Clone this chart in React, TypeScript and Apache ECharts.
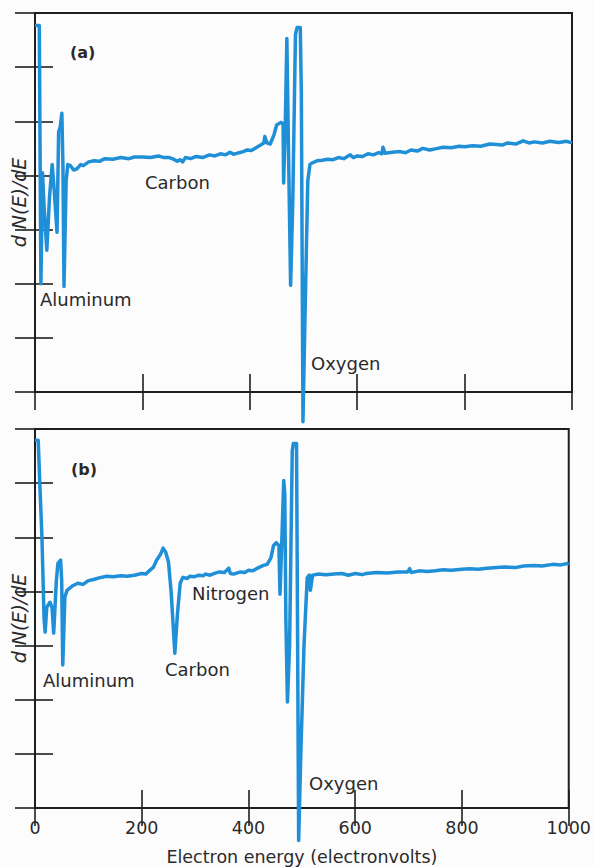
import React, { useEffect, useRef } from "react";
import * as echarts from "echarts";

// Panel (a): electron energy (eV) and derivative signal (arbitrary units, 0-7 frame)
const energyA = [
  0, 8, 11, 14, 17, 22, 27, 32, 36, 41, 44, 47, 50, 52, 54, 58, 61, 66, 72, 78, 85, 90, 100, 110, 120,
  130, 145, 160, 175, 185, 200, 215, 230, 240, 250, 258, 265, 270, 275, 280, 290, 300, 312, 325, 335,
  345, 355, 363, 370, 380, 388, 395, 403, 410, 420, 426, 428, 432, 438, 445, 450, 458, 462, 463, 466,
  469, 472, 476, 480, 485, 488, 494, 496, 499, 503, 508, 512, 516, 525, 535, 545, 555, 565, 575, 587,
  593, 600, 610, 620, 630, 640, 646, 648, 652, 665, 680, 690, 700, 712, 722, 735, 750, 760, 775, 790,
  800, 815, 830, 847, 860, 870, 880, 895, 909, 920, 930, 945, 959, 975, 990, 1000,
];
const valueA = [
  6.77, 6.77, 2.0, 4.05, 3.4, 2.62, 3.6, 4.2, 3.7, 2.95, 4.8, 4.9, 5.15, 4.2, 1.95, 3.9, 4.2, 4.18, 4.1,
  4.12, 4.2, 4.18, 4.25, 4.27, 4.26, 4.31, 4.3, 4.33, 4.31, 4.34, 4.34, 4.33, 4.36, 4.33, 4.33, 4.3,
  4.26, 4.29, 4.25, 4.33, 4.31, 4.35, 4.33, 4.38, 4.36, 4.4, 4.38, 4.43, 4.39, 4.42, 4.44, 4.47, 4.46,
  4.5, 4.56, 4.6, 4.72, 4.6, 4.58, 4.75, 4.93, 4.98, 4.95, 3.86, 4.9, 6.53, 4.5, 1.97, 3.5, 6.6, 6.73,
  6.73, 5.5, -0.55, 1.5, 3.9, 4.2, 4.23, 4.27, 4.28, 4.3, 4.29, 4.33, 4.31, 4.38, 4.33, 4.36, 4.35,
  4.4, 4.38, 4.42, 4.4, 4.52, 4.41, 4.43, 4.44, 4.42, 4.47, 4.45, 4.5, 4.47, 4.5, 4.52, 4.51, 4.54,
  4.53, 4.55, 4.54, 4.58, 4.57, 4.56, 4.6, 4.58, 4.64, 4.6, 4.62, 4.6, 4.63, 4.61, 4.63, 4.6,
];

// Panel (b)
const energyB = [
  0, 6, 9, 13, 17, 19, 22, 28, 32, 35, 40, 43, 48, 50, 52, 56, 60, 70, 80, 90, 100, 110, 120, 134, 147,
  160, 173, 186, 200, 208, 215, 222, 228, 235, 240, 245, 250, 255, 262, 267, 272, 277, 285, 290, 298,
  307, 315, 320, 328, 335, 345, 355, 363, 366, 372, 385, 393, 400, 408, 415, 428, 435, 442, 447, 452,
  457, 459, 462, 466, 468, 470, 473, 477, 482, 484, 490, 491, 494, 498, 504, 510, 514, 516, 520, 530,
  545, 560, 575, 587, 600, 613, 620, 640, 660, 680, 698, 702, 705, 720, 735, 750, 765, 780, 800, 815,
  830, 847, 865, 880, 900, 915, 935, 950, 970, 985, 1000,
];
const valueB = [
  6.79, 6.79, 6.0, 5.0, 3.5, 3.25, 3.71, 3.8, 3.7, 3.23, 4.2, 4.52, 4.58, 4.2, 2.64, 3.9, 4.02, 4.1,
  4.15, 4.13, 4.2, 4.22, 4.25, 4.28, 4.27, 4.29, 4.28, 4.3, 4.33, 4.32, 4.39, 4.45, 4.58, 4.68, 4.8,
  4.72, 4.55, 4.0, 2.86, 3.6, 4.15, 4.26, 4.24, 4.28, 4.27, 4.3, 4.29, 4.32, 4.3, 4.33, 4.36, 4.35,
  4.43, 4.33, 4.32, 4.36, 4.35, 4.39, 4.38, 4.42, 4.48, 4.5, 4.62, 4.85, 4.9, 4.85, 3.95, 4.8, 6.05,
  5.8, 3.5, 1.96, 3.0, 6.6, 6.73, 6.73, 5.0, -0.6, 1.0, 3.0, 4.25, 4.3, 4.02, 4.3, 4.32, 4.31, 4.32,
  4.33, 4.3, 4.33, 4.31, 4.33, 4.35, 4.34, 4.36, 4.36, 4.42, 4.35, 4.38, 4.37, 4.38, 4.4, 4.39, 4.41,
  4.42, 4.41, 4.43, 4.44, 4.45, 4.44, 4.47, 4.48, 4.47, 4.5, 4.49, 4.52,
];

const xName = "Electron energy (electronvolts)";
const yName = "d N(E)/dE";

const pair = (xs: number[], ys: number[]) => xs.map((x, i) => [x, ys[i]]);

const LINE = "#1f8fd8";
const INK = "#1e1e1e";
const TEXT = "#2a2a2a";
const FONT = "'DejaVu Sans', 'Liberation Sans', Arial, sans-serif";

export default function App() {
  const ref = useRef<HTMLDivElement>(null);

  useEffect(() => {
    document.body.style.margin = "0";
    const chart = echarts.init(ref.current!, null, { renderer: "svg" });

    const tick = (len: number) => ({
      show: true,
      inside: true,
      length: len,
      lineStyle: { color: INK, width: 1.6 },
    });

    const xAxisBase = (gridIndex: number, position: string, labels: boolean, name?: string) => ({
      type: "value",
      gridIndex,
      position,
      min: 0,
      max: 1000,
      interval: 200,
      axisLine: { show: false },
      axisTick: tick(18),
      splitLine: { show: false },
      axisLabel: {
        show: labels,
        margin: 11,
        fontSize: 17.5,
        color: TEXT,
        fontFamily: FONT,
        formatter: (v: number) => String(v),
      },
      name: name,
      nameLocation: "middle",
      nameGap: 40,
      nameTextStyle: { fontSize: 17.5, color: TEXT, fontFamily: FONT },
    });

    const yAxisBase = (gridIndex: number, position: string, len: number, name?: string) => ({
      type: "value",
      gridIndex,
      position,
      min: 0,
      max: 7,
      interval: 1,
      axisLine: { show: false },
      axisTick: tick(len),
      splitLine: { show: false },
      axisLabel: { show: false },
      name: name,
      nameLocation: "middle",
      nameGap: 7,
      nameRotate: 90,
      nameTextStyle: {
        fontSize: 19,
        fontStyle: "italic",
        color: TEXT,
        fontFamily: FONT,
      },
    });

    const label = (text: string, x: number, y: number, bold = false) => ({
      type: "text",
      x,
      y,
      style: {
        text,
        fill: TEXT,
        font: `${bold ? "bold " : ""}${bold ? 16 : 18}px ${FONT}`,
        textAlign: "left",
        textVerticalAlign: "middle",
        align: "left",
        verticalAlign: "middle",
      },
    });

    chart.setOption({
      animation: false,
      backgroundColor: "#fdfcfd",
      grid: [
        { left: 35, right: 22, top: 13, height: 379, show: true, borderColor: INK, borderWidth: 2, backgroundColor: "transparent" },
        { left: 35, right: 22, top: 429, height: 379, show: true, borderColor: INK, borderWidth: 2, backgroundColor: "transparent" },
      ],
      xAxis: [
        xAxisBase(0, "bottom", false),
        xAxisBase(0, "top", false),
        xAxisBase(1, "bottom", true, xName),
        xAxisBase(1, "top", false),
      ],
      yAxis: [
        yAxisBase(0, "left", 18, yName),
        yAxisBase(0, "right", 20),
        yAxisBase(1, "left", 18, yName),
        yAxisBase(1, "right", 20),
      ],
      series: [
        {
          type: "line",
          xAxisIndex: 0,
          yAxisIndex: 0,
          data: pair(energyA, valueA),
          showSymbol: false,
          clip: false,
          lineStyle: { color: LINE, width: 3.5, join: "round" },
        },
        {
          type: "line",
          xAxisIndex: 2,
          yAxisIndex: 2,
          data: pair(energyB, valueB),
          showSymbol: false,
          clip: false,
          lineStyle: { color: LINE, width: 3.5, join: "round" },
        },
      ],
      graphic: [
        label("(a)", 70, 52, true),
        label("Aluminum", 40, 299),
        label("Carbon", 145, 182),
        label("Oxygen", 311, 363),
        label("(b)", 71, 469, true),
        label("Aluminum", 43, 680),
        label("Carbon", 165, 669),
        label("Nitrogen", 192, 593),
        label("Oxygen", 309, 783),
      ],
    });

    return () => chart.dispose();
  }, []);

  return <div ref={ref} style={{ width: 594, height: 867 }} />;
}
